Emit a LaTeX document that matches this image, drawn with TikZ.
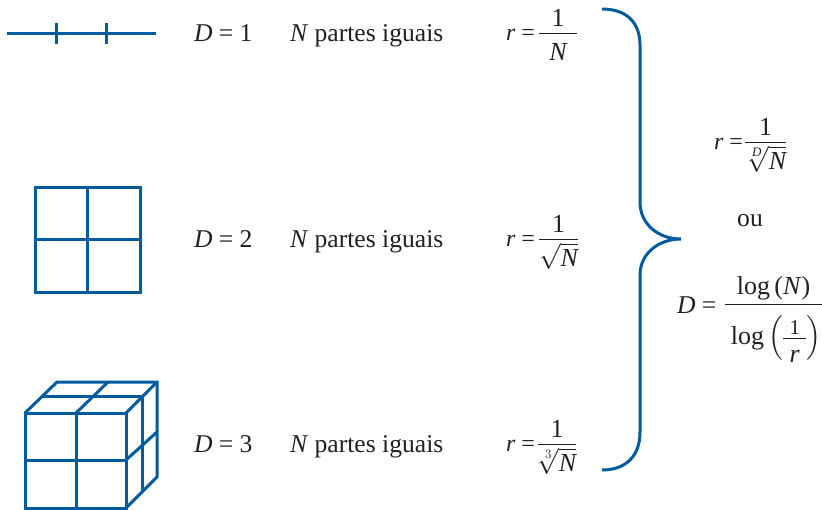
\RequirePackage{fix-cm}
\documentclass[tikz,border=0pt]{standalone}
\usepackage{amsmath}
\usepackage{fontspec}
\setmainfont{Liberation Serif}
\definecolor{figblue}{HTML}{005B9F}
\definecolor{ink}{HTML}{231F20}
\newcommand{\itx}[1]{\text{\itshape #1}}
\newcommand{\widen}[1]{\hbox to 38pt{\hss\itshape #1\hss}}
\newcommand{\lowone}[1]{\smash{\raisebox{-#1pt}{\text{1}}}\vphantom{x}}
\newcommand{\smallone}{\smash{\raisebox{-7pt}{\fontsize{21}{21}\selectfont 1}}\vphantom{x}}
\nulldelimiterspace=0pt
\tikzset{
  shape line/.style={draw=figblue,line width=3pt,line join=miter,line cap=butt},
  label text/.style={anchor=base west,inner sep=0pt,outer sep=0pt,text=ink,font=\fontsize{25.6}{30}\selectfont},
  short text/.style={anchor=base west,inner sep=0pt,outer sep=0pt,text=ink,font=\fontsize{24}{28}\selectfont},
  formula/.style={anchor=base west,inner sep=0pt,outer sep=0pt,text=ink,font=\fontsize{26}{30}\selectfont}
}
\begin{document}
\begin{tikzpicture}[x=1pt,y=-1pt]
\useasboundingbox (0,0) rectangle (822,509);
% segment
\draw[shape line] (7,33) -- (156,33);
\draw[shape line] (56,23) -- (56,44) (106,23) -- (106,44);
% square
\draw[shape line] (35,187) rectangle (140,292);
\draw[shape line] (87,187) -- (87,292) (35,239) -- (140,239);
% cube
\draw[shape line] (25,413) rectangle (126,508);
\draw[shape line] (76,413) -- (76,508) (25,460) -- (126,460);
\draw[shape line] (25,413) -- (57,382) -- (157,382) -- (157,477) -- (126,508);
\draw[shape line] (126,413) -- (157,382);
\draw[shape line] (76,413) -- (108,382);
\draw[shape line] (42,396) -- (142,396) -- (142,491);
\draw[shape line] (126,460) -- (157,432);
% brace
\draw[shape line] (602,9) .. controls (626,9) and (640,22) .. (640,45) -- (640,202)
  .. controls (640,224) and (658,239) .. (681,239)
  .. controls (658,239) and (640,254) .. (640,275) -- (640,432)
  .. controls (640,456) and (626,470) .. (602,470);
% rows
\node[label text] (d1) at (194,41) {\textit{D} = 1};
\node[label text] (d2) at (194,247) {\textit{D} = 2};
\node[label text] (d3) at (194,452) {\textit{D} = 3};
\node[label text] (n1) at (290,41) {\textit{N} partes iguais};
\node[label text] (n2) at (290,247) {\textit{N} partes iguais};
\node[label text] (n3) at (290,452) {\textit{N} partes iguais};
\node[short text] (r1) at (506,40) {\textit{r} =};
\node[short text] (r2) at (506,246) {\textit{r} =};
\node[short text] (r3) at (506,451) {\textit{r} =};
\node[formula] (f1) at (539,39.5) {$\dfrac{\lowone{5}}{\raisebox{-3pt}{\widen{N}}}$};
\node[formula] (f2) at (539,245.5) {$\dfrac{\lowone{5}}{\sqrt{\itx{N}}}$};
\node[formula] (f3) at (538,450.5) {$\dfrac{\lowone{5}}{\sqrt[3]{\itx{N}}}$};
% result
\node[short text] (rg) at (714,149) {\textit{r} =};
\node[formula] (fg) at (745,148.5) {$\dfrac{\lowone{5}}{\sqrt[\itx{D}]{\itx{N}}}$};
\node[label text,anchor=base] (ou) at (750,226) {ou};
\node[label text] (dg) at (677,313) {\textit{D} =};
\node[formula] (fd) at (725,311) {$\dfrac{\smash{\raisebox{-1pt}{\hbox to 97pt{\hss log\,(\textit{N})\hss}}}}{\hspace{5pt}\raisebox{-16pt}{$\text{log}\left(\dfrac{\smallone}{\hbox to 23pt{\hss\itshape r\hss}}\rule[-17pt]{0pt}{47pt}\right)$}}$};
\end{tikzpicture}
\end{document}
